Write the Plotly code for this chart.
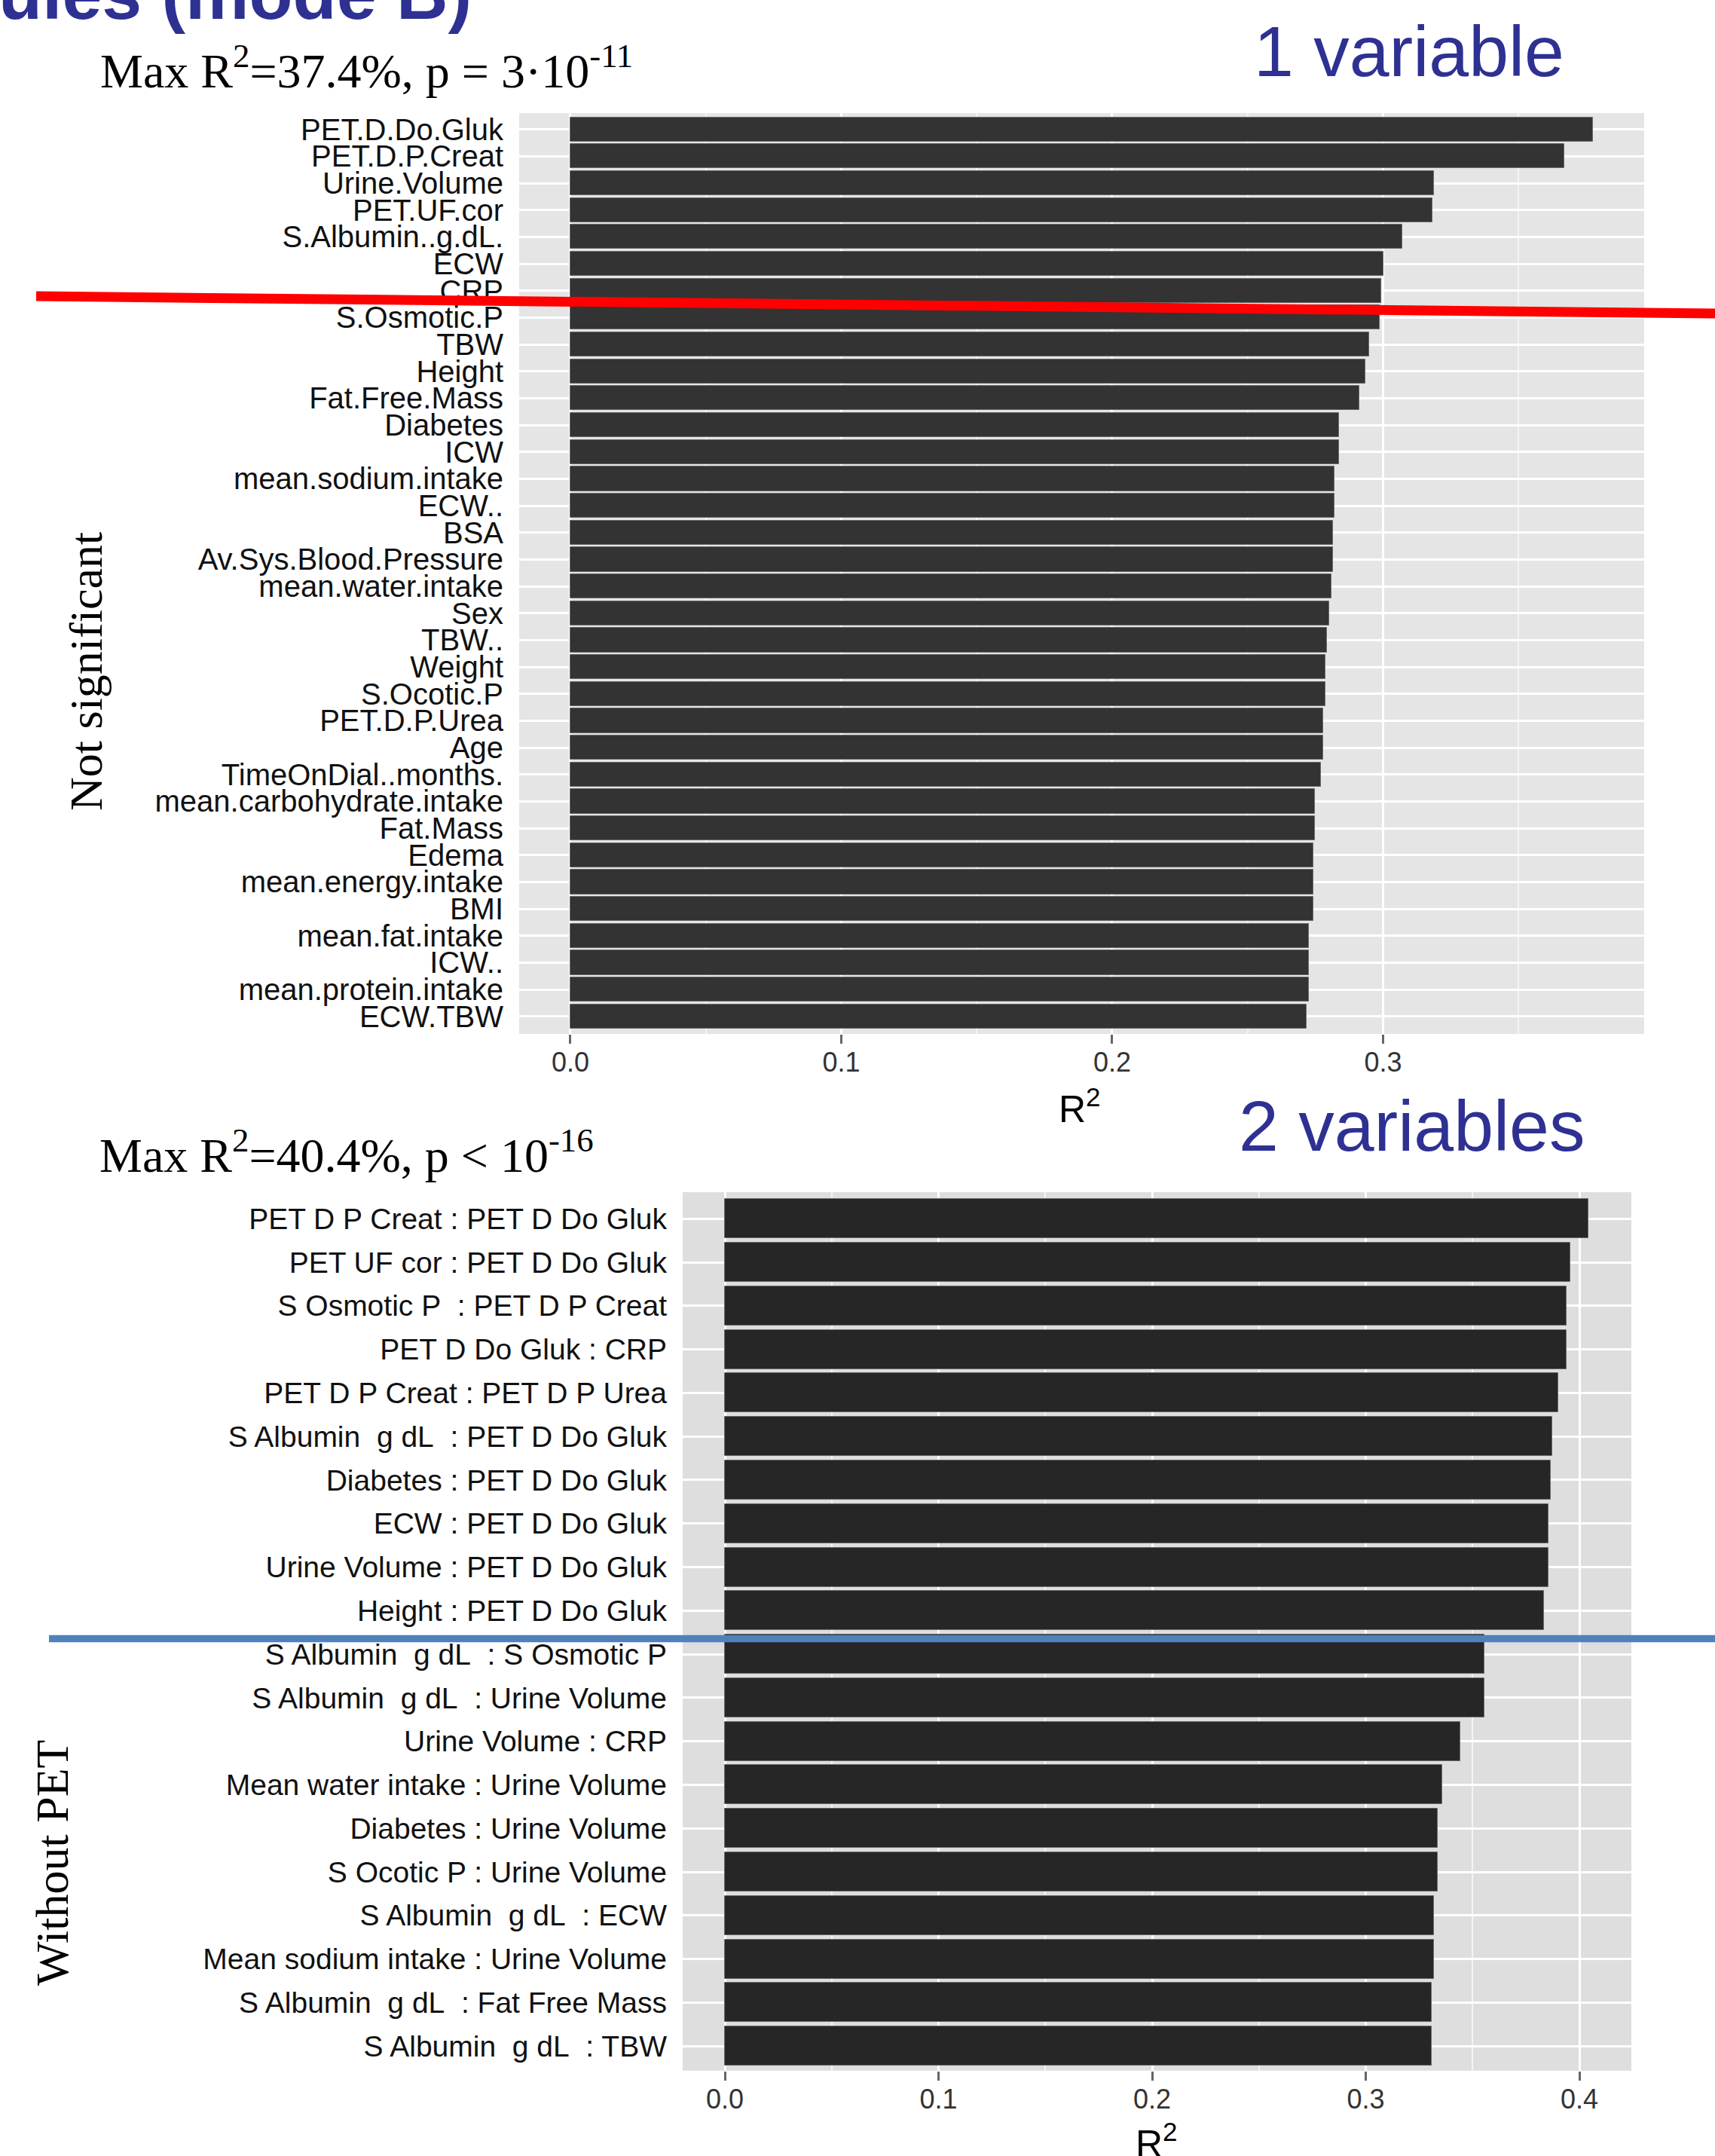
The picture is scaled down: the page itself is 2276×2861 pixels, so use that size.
import plotly.graph_objects as go

# ---------------- data ----------------
one_var_labels = [
    "PET.D.Do.Gluk", "PET.D.P.Creat", "Urine.Volume", "PET.UF.cor", "S.Albumin..g.dL.",
    "ECW", "CRP", "S.Osmotic.P", "TBW", "Height", "Fat.Free.Mass", "Diabetes", "ICW",
    "mean.sodium.intake", "ECW..", "BSA", "Av.Sys.Blood.Pressure", "mean.water.intake",
    "Sex", "TBW..", "Weight", "S.Ocotic.P", "PET.D.P.Urea", "Age", "TimeOnDial..months.",
    "mean.carbohydrate.intake", "Fat.Mass", "Edema", "mean.energy.intake", "BMI",
    "mean.fat.intake", "ICW..", "mean.protein.intake", "ECW.TBW",
]
one_var_r2 = [
    0.3775, 0.3669, 0.3187, 0.3181, 0.3070, 0.3001, 0.2994, 0.2987, 0.2950, 0.2935,
    0.2912, 0.2838, 0.2838, 0.2822, 0.2822, 0.2816, 0.2816, 0.2809, 0.2801, 0.2794,
    0.2786, 0.2786, 0.2779, 0.2779, 0.2771, 0.2749, 0.2749, 0.2742, 0.2742, 0.2742,
    0.2727, 0.2727, 0.2727, 0.2719,
]

NB = "\u00a0"
two_var_labels = [
    "PET D P Creat : PET D Do Gluk",
    "PET UF cor : PET D Do Gluk",
    f"S Osmotic P{NB} : PET D P Creat",
    "PET D Do Gluk : CRP",
    "PET D P Creat : PET D P Urea",
    f"S Albumin{NB} g dL{NB} : PET D Do Gluk",
    "Diabetes : PET D Do Gluk",
    "ECW : PET D Do Gluk",
    "Urine Volume : PET D Do Gluk",
    "Height : PET D Do Gluk",
    f"S Albumin{NB} g dL{NB} : S Osmotic P",
    f"S Albumin{NB} g dL{NB} : Urine Volume",
    "Urine Volume : CRP",
    "Mean water intake : Urine Volume",
    "Diabetes : Urine Volume",
    "S Ocotic P : Urine Volume",
    f"S Albumin{NB} g dL{NB} : ECW",
    "Mean sodium intake : Urine Volume",
    f"S Albumin{NB} g dL{NB} : Fat Free Mass",
    f"S Albumin{NB} g dL{NB} : TBW",
]
two_var_r2 = [
    0.4043, 0.3958, 0.3940, 0.3940, 0.3902, 0.3873, 0.3864, 0.3855, 0.3855, 0.3835,
    0.3554, 0.3554, 0.3442, 0.3357, 0.3338, 0.3338, 0.3318, 0.3318, 0.3310, 0.3310,
]

top_title = "Max R<sup>2</sup>=37.4%, p = 3·10<sup>-11</sup>"
bottom_title = "Max R<sup>2</sup>=40.4%, p &lt; 10<sup>-16</sup>"

# ---------------- layout helpers ----------------
W, H = 2276, 2861


def fx(x):
    return x / W


def fy(y):
    return 1 - y / H


SANS = "Liberation Sans, Arial, sans-serif"
SERIF = "Liberation Serif, Times New Roman, serif"
BLUE_TXT = "#2E3192"

fig = go.Figure()

fig.add_trace(go.Bar(
    x=one_var_r2, y=one_var_labels, orientation="h", width=0.9,
    marker=dict(color="#333333", line=dict(color="#6a6a6a", width=1)),
    xaxis="x", yaxis="y", showlegend=False,
))
fig.add_trace(go.Bar(
    x=two_var_r2, y=two_var_labels, orientation="h", width=0.9,
    marker=dict(color="#262626", line=dict(color="#6a6a6a", width=1)),
    xaxis="x2", yaxis="y2", showlegend=False,
))

xcommon = dict(
    dtick=0.1, tick0=0, tickformat=".1f", showgrid=True, gridcolor="white", gridwidth=3,
    minor=dict(dtick=0.05, showgrid=True, gridcolor="#F4F4F4", gridwidth=1.5),
    ticks="outside", ticklen=12, tickwidth=2.5, tickcolor="#666666",
    ticklabelstandoff=-6,
    tickfont=dict(family=SANS, size=36, color="#333333"),
    zeroline=False, showline=False, fixedrange=True,
)
ycommon = dict(
    type="category", tickmode="linear", tick0=0, dtick=1,
    showgrid=True, gridcolor="white", gridwidth=2.5,
    ticks="", zeroline=False, showline=False, ticklabelstandoff=20,
)

fig.update_layout(
    width=W, height=H,
    margin=dict(l=0, r=0, t=0, b=0),
    paper_bgcolor="white",
    bargap=0,
    xaxis=dict(domain=[fx(689), fx(2182)], range=[-0.0189, 0.3964], anchor="y", **xcommon),
    yaxis=dict(domain=[fy(1372), fy(150)], range=[33.65, -0.61], anchor="x",
               tickfont=dict(family=SANS, size=40, color="#111111"), **ycommon),
    xaxis2=dict(domain=[fx(906), fx(2165)], range=[-0.01975, 0.4243], anchor="y2", **xcommon),
    yaxis2=dict(domain=[fy(2747.5), fy(1582)], range=[19.56, -0.61], anchor="x2",
                tickfont=dict(family=SANS, size=39, color="#111111"), **ycommon),
    plot_bgcolor="#E5E5E5",
)

# darker background for the second panel
fig.add_shape(type="rect", xref="x2 domain", yref="y2 domain", x0=0, x1=1, y0=0, y1=1,
              fillcolor="#DEDEDE", line=dict(width=0), layer="below")

# hand-drawn separator lines
fig.add_shape(type="line", xref="paper", yref="paper",
              x0=fx(48), y0=fy(393), x1=fx(2276), y1=fy(416),
              line=dict(color="#FF0000", width=13))
fig.add_shape(type="line", xref="paper", yref="paper",
              x0=fx(65), y0=fy(2174.5), x1=fx(2276), y1=fy(2174.5),
              line=dict(color="#4F81BD", width=9.5))


def ann(text, x, y, size, family, color="#000000", xanchor="left", textangle=0, bold=False):
    if bold:
        text = f"<b>{text}</b>"
    fig.add_annotation(text=text, x=fx(x), y=fy(y), xref="paper", yref="paper",
                       xanchor=xanchor, yanchor="middle", showarrow=False,
                       textangle=textangle,
                       font=dict(family=family, size=size, color=color))


ann("ules (mode B)", -4, -8, 95, SANS, BLUE_TXT, bold=True)
ann(top_title, 131, 90, 64, SERIF)
ann("1 variable", 1662, 68, 95, SANS, BLUE_TXT)
ann("Not significant", 114, 891, 62, SERIF, xanchor="center", textangle=-90)
ann("R<sup>2</sup>", 1433, 1468, 50, SANS, xanchor="center")
ann("2 variables", 1642, 1494, 95, SANS, BLUE_TXT)
ann(bottom_title, 130, 1528, 64, SERIF)
ann("Without PET", 69, 2472, 62, SERIF, xanchor="center", textangle=-90)
ann("R<sup>2</sup>", 1535, 2841, 50, SANS, xanchor="center")

fig.write_html(
    "out.html",
    config={"displayModeBar": False},
    post_script="document.body.style.margin='0';document.body.style.overflow='hidden';",
)
